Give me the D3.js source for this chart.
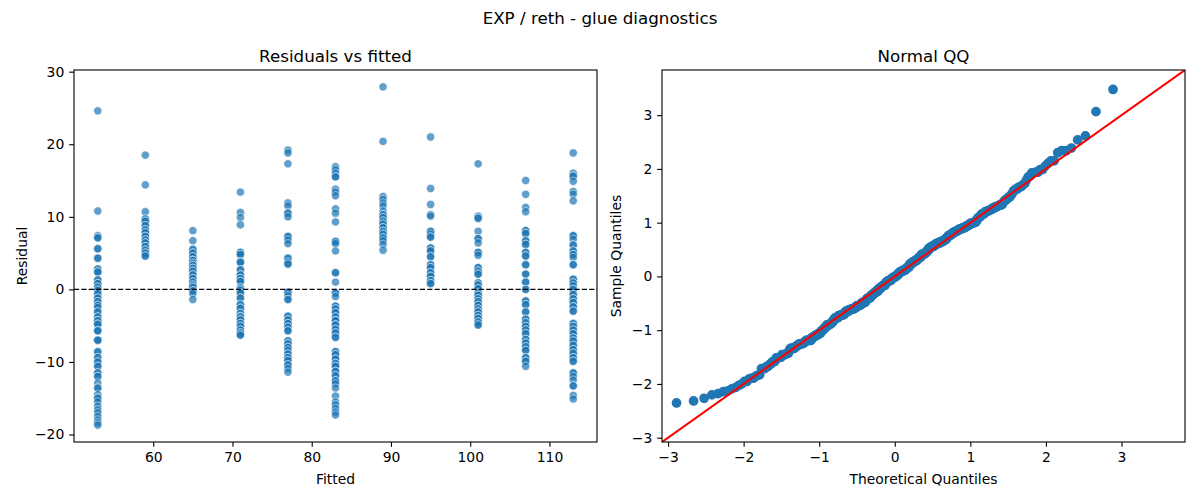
<!DOCTYPE html>
<html>
<head>
<meta charset="utf-8">
<script src="https://cdn.jsdelivr.net/npm/d3@7"></script>
<style>
  body { margin: 0; background: #fff; }
  text { font-family: "DejaVu Sans", sans-serif; fill: #000; }
</style>
</head>
<body>
<div id="chart"></div>
<script>
// ---------------------------------------------------------------------------
// Data (darker, overlapping markers counted as repeats)
// ---------------------------------------------------------------------------
const fittedLevels = [53, 59, 65, 71, 77, 83, 89, 95, 101, 107, 113];

const resid53 = [24.6, 10.8, 7.4, 7.1, 7.1, 5.6, 5.6, 4.3, 4.3, 2.8, 2.8, 2.4, 2.4, 2.4, 1.3, 1.3,
  0.8, 0.8, 0.3, 0.3, -0.1, -0.1, -0.6, -0.6, -1.2, -1.2, -1.7, -1.7, -2.2, -2.2, -2.5, -3.1, -3.1,
  -3.8, -3.8, -4.3, -4.3, -4.3, -4.8, -4.8, -4.8, -5.7, -5.7, -5.7, -7.0, -7.0, -7.0, -8.6, -8.6,
  -9.4, -9.4, -10.0, -10.0, -10.6, -10.6, -11.5, -11.5, -12.0, -12.0, -12.9, -13.6, -13.6, -14.5,
  -15.0, -15.0, -15.5, -16.1, -16.6, -17.0, -17.5, -18.0, -18.4, -18.7];
const resid59 = [18.5, 14.4, 10.7, 9.7, 9.7, 9.4, 9.4, 8.8, 8.8, 8.2, 8.2, 7.8, 7.8, 7.3, 7.3, 6.8,
  6.8, 6.4, 6.4, 5.9, 5.9, 5.4, 5.4, 5.0, 5.0, 4.6, 4.6];
const resid65 = [8.1, 6.7, 5.5, 5.5, 5.0, 5.0, 4.5, 4.5, 4.0, 4.0, 4.0, 3.6, 3.6, 3.3, 3.3, 2.9, 2.9,
  2.5, 2.5, 2.0, 2.0, 1.5, 1.5, 1.0, 1.0, 0.6, 0.6, 0.3, 0.3, -0.2, -0.2, -0.6, -1.4];
const resid71 = [13.4, 10.6, 9.9, 8.9, 5.1, 5.1, 4.8, 4.8, 3.8, 3.8, 3.7, 2.7, 2.7, 2.0, 2.0, 1.5,
  1.5, 1.1, 1.1, 0.2, 0.2, -0.1, -0.1, -0.5, -0.5, -1.2, -1.2, -2.1, -2.1, -2.6, -2.6, -3.3, -3.3,
  -3.7, -3.8, -3.8, -4.2, -4.2, -4.7, -4.7, -5.1, -5.1, -5.6, -5.6, -6.0, -6.0, -6.3, -6.3];
const resid77 = [19.2, 18.8, 17.3, 11.9, 11.5, 10.5, 10.5, 10.0, 7.3, 7.3, 6.8, 6.3, 4.3, 4.3, 3.8,
  3.5, 3.5, -0.4, -0.4, -0.9, -1.4, -1.4, -3.7, -3.7, -4.2, -4.2, -4.7, -4.7, -5.2, -5.2, -5.7, -5.7,
  -7.1, -7.1, -7.5, -7.5, -8.0, -8.0, -8.4, -8.9, -8.9, -9.4, -9.4, -9.8, -9.8, -10.4, -10.4, -10.9,
  -11.4];
const resid83 = [16.9, 16.5, 16.0, 15.5, 15.5, 13.8, 13.4, 12.9, 11.1, 10.5, 9.3, 6.6, 6.6, 6.3, 5.3,
  2.3, 2.3, 1.0, -0.5, -0.5, -1.0, -2.3, -2.3, -2.7, -2.7, -3.2, -3.2, -3.8, -3.8, -4.3, -4.3, -4.3,
  -4.9, -4.9, -4.9, -5.5, -5.5, -6.0, -6.0, -6.6, -6.6, -8.6, -8.6, -9.0, -9.0, -9.6, -9.6, -10.2,
  -10.2, -10.6, -10.6, -11.3, -11.3, -11.9, -11.9, -12.6, -12.6, -13.0, -13.6, -14.7, -15.5, -15.9,
  -16.4, -16.9, -17.3];
const resid89 = [27.9, 20.4, 12.8, 12.4, 11.9, 11.5, 10.8, 10.3, 10.3, 9.9, 9.9, 9.4, 9.4, 9.0, 9.0,
  8.5, 8.5, 8.0, 8.0, 7.6, 7.6, 7.1, 7.1, 6.7, 6.2, 5.4];
const resid95 = [21.0, 13.9, 11.7, 10.3, 10.1, 8.0, 8.0, 7.6, 7.2, 7.2, 5.7, 5.7, 5.3, 5.3, 4.5, 4.5,
  3.4, 3.4, 3.0, 3.0, 2.3, 2.3, 1.8, 1.8, 1.2, 1.2, 0.8, 0.8];
const resid101 = [17.3, 10.1, 9.8, 9.8, 8.0, 7.0, 7.0, 6.4, 5.1, 5.1, 4.7, 3.0, 3.0, 2.5, 2.5, 2.1,
  2.1, 0.9, 0.9, 0.6, 0.6, 0.1, 0.1, -0.5, -0.5, -0.8, -0.8, -1.3, -1.3, -1.7, -1.7, -2.2, -2.2, -2.7,
  -2.7, -3.1, -3.1, -3.6, -3.6, -4.0, -4.0, -4.5, -4.5, -4.9, -4.9];
const resid107 = [15.0, 13.1, 11.3, 10.7, 8.1, 8.1, 7.7, 7.7, 6.7, 6.7, 6.2, 6.2, 5.1, 5.1, 4.6, 4.6,
  3.4, 3.4, 2.1, 2.1, 1.0, 1.0, 0.0, 0.0, -1.6, -1.6, -2.1, -2.1, -3.1, -3.1, -4.1, -4.1, -4.6, -4.6,
  -5.1, -5.1, -5.6, -5.6, -6.1, -6.1, -6.9, -6.9, -7.4, -7.4, -7.9, -7.9, -8.4, -8.4, -9.4, -9.4,
  -9.9, -9.9, -10.6];
const resid113 = [18.8, 16.0, 15.6, 15.6, 14.9, 13.5, 13.1, 12.2, 7.4, 7.4, 6.9, 6.1, 6.1, 5.3, 5.3,
  4.8, 4.8, 4.4, 3.4, 3.4, 1.4, 1.4, 0.9, 0.9, 0.5, 0.0, 0.0, -0.7, -0.7, -1.3, -1.3, -1.8, -1.8,
  -2.4, -2.4, -3.0, -3.0, -4.7, -4.7, -5.1, -5.1, -5.6, -5.6, -6.1, -6.1, -6.7, -6.7, -7.1, -7.1,
  -7.7, -7.7, -8.3, -8.3, -8.8, -8.8, -9.4, -9.4, -9.9, -9.9, -11.5, -11.5, -12.0, -12.5, -13.3,
  -13.3, -14.6, -15.1];

const residualsByLevel = [resid53, resid59, resid65, resid71, resid77, resid83,
  resid89, resid95, resid101, resid107, resid113];

const residTicks = [-20, -10, 0, 10, 20, 30];
const fittedTicks = [60, 70, 80, 90, 100, 110];
const qqTicks = [-3, -2, -1, 0, 1, 2, 3];
const qqDomain = [-3.08, 3.84];

// ---------------------------------------------------------------------------
// Helpers
// ---------------------------------------------------------------------------
// inverse normal CDF (Acklam)
function normPpf(p) {
  const a = [-39.69683028665376, 220.9460984245205, -275.9285104469687, 138.3577518672690, -30.66479806614716, 2.506628277459239];
  const b = [-54.47609879822406, 161.5858368580409, -155.6989798598866, 66.80131188771972, -13.28068155288572];
  const c = [-0.007784894002430293, -0.3223964580411365, -2.400758277161838, -2.549732539343734, 4.374664141464968, 2.938163982698783];
  const d = [0.007784695709041462, 0.3224671290700398, 2.445134137142996, 3.754408661907416];
  const pl = 0.02425, ph = 1 - pl;
  let q, r;
  if (p < pl) {
    q = Math.sqrt(-2 * Math.log(p));
    return (((((c[0]*q+c[1])*q+c[2])*q+c[3])*q+c[4])*q+c[5]) / ((((d[0]*q+d[1])*q+d[2])*q+d[3])*q+1);
  }
  if (p <= ph) {
    q = p - 0.5; r = q * q;
    return (((((a[0]*r+a[1])*r+a[2])*r+a[3])*r+a[4])*r+a[5])*q / (((((b[0]*r+b[1])*r+b[2])*r+b[3])*r+b[4])*r+1);
  }
  q = Math.sqrt(-2 * Math.log(1 - p));
  return -(((((c[0]*q+c[1])*q+c[2])*q+c[3])*q+c[4])*q+c[5]) / ((((d[0]*q+d[1])*q+d[2])*q+d[3])*q+1);
}

function padded(ext, frac) {
  const span = ext[1] - ext[0];
  return [ext[0] - span * frac, ext[1] + span * frac];
}

// ---------------------------------------------------------------------------
// Build points
// ---------------------------------------------------------------------------
const points = [];
fittedLevels.forEach((f, i) => {
  residualsByLevel[i].forEach(r => points.push({ fitted: f, resid: r }));
});

const allResid = points.map(p => p.resid);
const mu = d3.mean(allResid);
const sigma = Math.sqrt(d3.mean(allResid, r => (r - mu) * (r - mu)));
const sorted = allResid.map(r => (r - mu) / sigma).sort(d3.ascending);
const n = sorted.length;
const qqPoints = sorted.map((z, i) => ({ theo: normPpf((i + 1) / (n + 1)), sample: z }));

// ---------------------------------------------------------------------------
// Layout
// ---------------------------------------------------------------------------
const W = 1200, H = 500;
const plotTop = 70, plotBottom = 442;
const leftPanel  = { x0: 74,  x1: 597 };
const rightPanel = { x0: 662, x1: 1185 };
const FONT = 13.9, TITLE_FONT = 16.7;
const TICK = 4.86, PAD = 4.86;
const intFmt = d3.format('d');

const svg = d3.select('#chart').append('svg')
  .attr('width', W).attr('height', H)
  .attr('viewBox', `0 0 ${W} ${H}`);

svg.append('text')
  .attr('x', W / 2).attr('y', 24)
  .attr('text-anchor', 'middle')
  .attr('font-size', TITLE_FONT)
  .text('EXP / reth - glue diagnostics');

const defs = svg.append('defs');

function drawAxes(panel, x, y, xTicks, yTicks, title, xLabel, yLabel, yLabelX, clipId) {
  const g = svg.append('g');

  defs.append('clipPath').attr('id', clipId)
    .append('rect')
    .attr('x', panel.x0).attr('y', plotTop)
    .attr('width', panel.x1 - panel.x0).attr('height', plotBottom - plotTop);

  const xAxis = g.append('g')
    .attr('transform', `translate(0,${plotBottom})`)
    .call(d3.axisBottom(x).tickValues(xTicks).tickFormat(intFmt)
      .tickSize(TICK).tickPadding(PAD).tickSizeOuter(0));
  const yAxis = g.append('g')
    .attr('transform', `translate(${panel.x0},0)`)
    .call(d3.axisLeft(y).tickValues(yTicks).tickFormat(intFmt)
      .tickSize(TICK).tickPadding(PAD).tickSizeOuter(0));

  [xAxis, yAxis].forEach(ax => {
    ax.select('.domain').remove();
    ax.selectAll('line').attr('stroke', '#000').attr('stroke-width', 1.1);
    ax.selectAll('text')
      .attr('font-size', FONT)
      .attr('font-family', '"DejaVu Sans", sans-serif')
      .attr('fill', '#000');
  });

  g.append('text')
    .attr('x', (panel.x0 + panel.x1) / 2).attr('y', 62)
    .attr('text-anchor', 'middle')
    .attr('font-size', TITLE_FONT)
    .text(title);

  g.append('text')
    .attr('x', (panel.x0 + panel.x1) / 2).attr('y', 484)
    .attr('text-anchor', 'middle')
    .attr('font-size', FONT)
    .text(xLabel);

  g.append('text')
    .attr('transform', `translate(${yLabelX},${(plotTop + plotBottom) / 2}) rotate(-90)`)
    .attr('text-anchor', 'middle')
    .attr('font-size', FONT)
    .text(yLabel);

  return g;
}

function drawFrame(panel) {
  svg.append('rect')
    .attr('x', panel.x0).attr('y', plotTop)
    .attr('width', panel.x1 - panel.x0).attr('height', plotBottom - plotTop)
    .attr('fill', 'none')
    .attr('stroke', '#000')
    .attr('stroke-width', 1.1);
}

// ── Residuals vs fitted ────────────────────────────────────────────────────
const xFit = d3.scaleLinear()
  .domain(padded(d3.extent(fittedLevels), 0.05))
  .range([leftPanel.x0, leftPanel.x1]);
const yRes = d3.scaleLinear()
  .domain(padded(d3.extent(allResid), 0.05))
  .range([plotBottom, plotTop]);

drawAxes(leftPanel, xFit, yRes, fittedTicks, residTicks,
  'Residuals vs fitted', 'Fitted', 'Residual', 27, 'clipL');

const gL = svg.append('g').attr('clip-path', 'url(#clipL)');

gL.selectAll('circle')
  .data(points)
  .join('circle')
  .attr('cx', d => xFit(d.fitted))
  .attr('cy', d => yRes(d.resid))
  .attr('r', 4.17)
  .attr('fill', '#1f77b4')
  .attr('stroke', '#fff')
  .attr('stroke-width', 0.67)
  .attr('opacity', 0.7);

gL.append('line')
  .attr('x1', leftPanel.x0).attr('x2', leftPanel.x1)
  .attr('y1', yRes(0)).attr('y2', yRes(0))
  .attr('stroke', '#000')
  .attr('stroke-width', 1.39)
  .attr('stroke-dasharray', '5.14,2.22');

drawFrame(leftPanel);

// ── Normal QQ ──────────────────────────────────────────────────────────────
const xQ = d3.scaleLinear().domain(qqDomain).range([rightPanel.x0, rightPanel.x1]);
const yQ = d3.scaleLinear().domain(qqDomain).range([plotBottom, plotTop]);

drawAxes(rightPanel, xQ, yQ, qqTicks, qqTicks,
  'Normal QQ', 'Theoretical Quantiles', 'Sample Quantiles', 621, 'clipR');

const gR = svg.append('g').attr('clip-path', 'url(#clipR)');

gR.selectAll('circle')
  .data(qqPoints)
  .join('circle')
  .attr('cx', d => xQ(d.theo))
  .attr('cy', d => yQ(d.sample))
  .attr('r', 4.17)
  .attr('fill', '#1f77b4')
  .attr('stroke', '#1f77b4')
  .attr('stroke-width', 1.39);

gR.append('line')
  .attr('x1', xQ(qqDomain[0])).attr('y1', yQ(qqDomain[0]))
  .attr('x2', xQ(qqDomain[1])).attr('y2', yQ(qqDomain[1]))
  .attr('stroke', '#ff0000')
  .attr('stroke-width', 2.08);

drawFrame(rightPanel);
</script>
</body>
</html>
